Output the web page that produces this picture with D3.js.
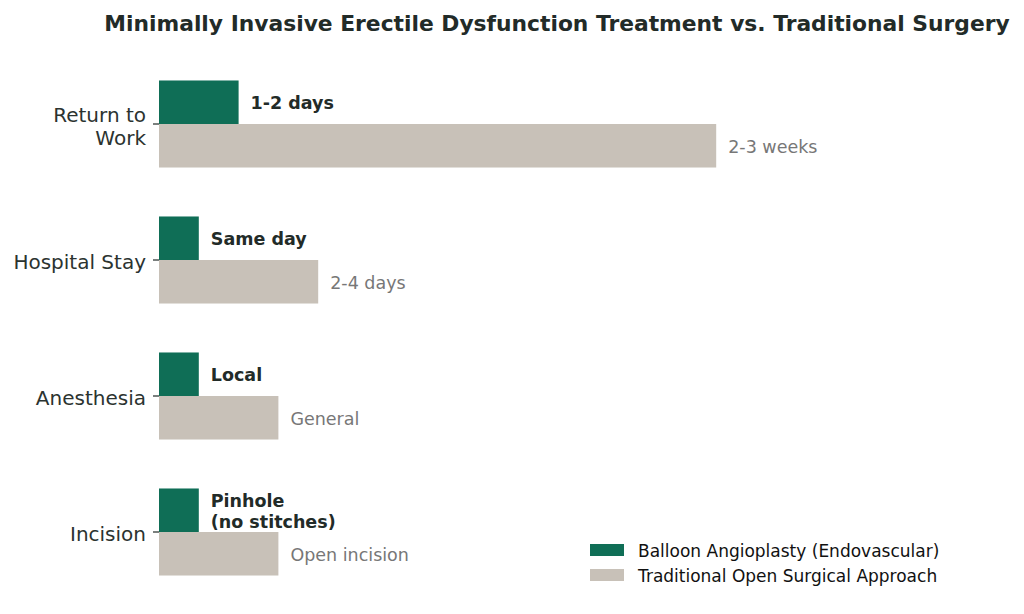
<!DOCTYPE html>
<html>
<head>
<meta charset="utf-8">
<script src="https://cdn.jsdelivr.net/npm/d3@7"></script>
<style>
  body { margin: 0; background: #fff; }
  svg { font-family: "DejaVu Sans", sans-serif; }
</style>
</head>
<body>
<svg id="chart" width="1024" height="614"></svg>
<script>
// chart data
var categories = ['Return to\nWork', 'Hospital Stay', 'Anesthesia', 'Incision']
var balloonValues = [2, 1, 1, 1]
var surgeryValues = [14, 4, 3, 3]
var balloonLabels = ['1-2 days', 'Same day', 'Local', 'Pinhole\n(no stitches)']
var surgeryLabels = ['2-3 weeks', '2-4 days', 'General', 'Open incision']
var seriesNames = ['Balloon Angioplasty (Endovascular)', 'Traditional Open Surgical Approach']
var colors = ['#0f6e56', '#c8c1b8']

var dims = {
  width: 1024,
  height: 614,
  margin: { top: 56, bottom: 14, left: 159, right: 69 }
}

var svg = d3.select('#chart')

var x = d3.scaleLinear()
  .domain([0, 20])
  .range([dims.margin.left, dims.width - dims.margin.right])

// one unit per category, bars 0.32 thick each side of the tick
var y = d3.scaleLinear()
  .domain([-0.5, 3.5])
  .range([dims.margin.top, dims.height - dims.margin.bottom])
var barH = y(0.32) - y(0)

svg.append('text')
  .attr('x', 557)
  .attr('y', 31)
  .attr('text-anchor', 'middle')
  .attr('font-size', 21.8)
  .attr('font-weight', 'bold')
  .attr('fill', '#222b28')
  .text('Minimally Invasive Erectile Dysfunction Treatment vs. Traditional Surgery')

var g = svg.append('g')

g.selectAll('rect.balloon')
  .data(balloonValues)
  .enter()
  .append('rect')
  .attr('class', 'balloon')
  .attr('x', x(0))
  .attr('y', (d, i) => y(i) - barH)
  .attr('width', d => x(d) - x(0))
  .attr('height', barH)
  .attr('fill', colors[0])

g.selectAll('rect.surgery')
  .data(surgeryValues)
  .enter()
  .append('rect')
  .attr('class', 'surgery')
  .attr('x', x(0))
  .attr('y', (d, i) => y(i))
  .attr('width', d => x(d) - x(0))
  .attr('height', barH)
  .attr('fill', colors[1])

function multiLine(sel, str, lineH) {
  var lines = str.split('\n')
  lines.forEach(function (l, k) {
    sel.append('tspan')
      .attr('x', sel.attr('x'))
      .attr('dy', k == 0 ? (-(lines.length - 1) / 2 * lineH) + 'px' : lineH + 'px')
      .text(l)
  })
}

balloonValues.forEach(function (d, i) {
  var t = g.append('text')
    .attr('x', x(d) + 12)
    .attr('y', y(i) - barH / 2 + 1)
    .attr('dominant-baseline', 'central')
    .attr('font-size', 17.5)
    .attr('font-weight', 'bold')
    .attr('fill', '#222b28')
  multiLine(t, balloonLabels[i], 21)
})

surgeryValues.forEach(function (d, i) {
  var t = g.append('text')
    .attr('x', x(d) + 12)
    .attr('y', y(i) + barH / 2 + 1)
    .attr('dominant-baseline', 'central')
    .attr('font-size', 17.5)
    .attr('fill', '#777')
  multiLine(t, surgeryLabels[i], 21)
})

// y axis: ticks and labels only, no spine
var yAxis = svg.append('g')
categories.forEach(function (c, i) {
  yAxis.append('line')
    .attr('x1', x(0) - 6)
    .attr('x2', x(0))
    .attr('y1', y(i))
    .attr('y2', y(i))
    .attr('stroke', '#222b28')
    .attr('stroke-width', 1.2)
  var t = yAxis.append('text')
    .attr('x', x(0) - 13)
    .attr('y', y(i) + 2)
    .attr('text-anchor', 'end')
    .attr('dominant-baseline', 'central')
    .attr('font-size', 20)
    .attr('fill', '#2b3330')
  multiLine(t, c, 23)
})

var legend = svg.append('g').attr('transform', 'translate(590,544)')
seriesNames.forEach(function (n, i) {
  legend.append('rect')
    .attr('x', 0)
    .attr('y', i * 25)
    .attr('width', 34)
    .attr('height', 12)
    .attr('fill', colors[i])
  legend.append('text')
    .attr('x', 48)
    .attr('y', i * 25 + 6.5)
    .attr('dominant-baseline', 'central')
    .attr('font-size', 17)
    .attr('fill', '#111')
    .text(n)
})
</script>
</body>
</html>
